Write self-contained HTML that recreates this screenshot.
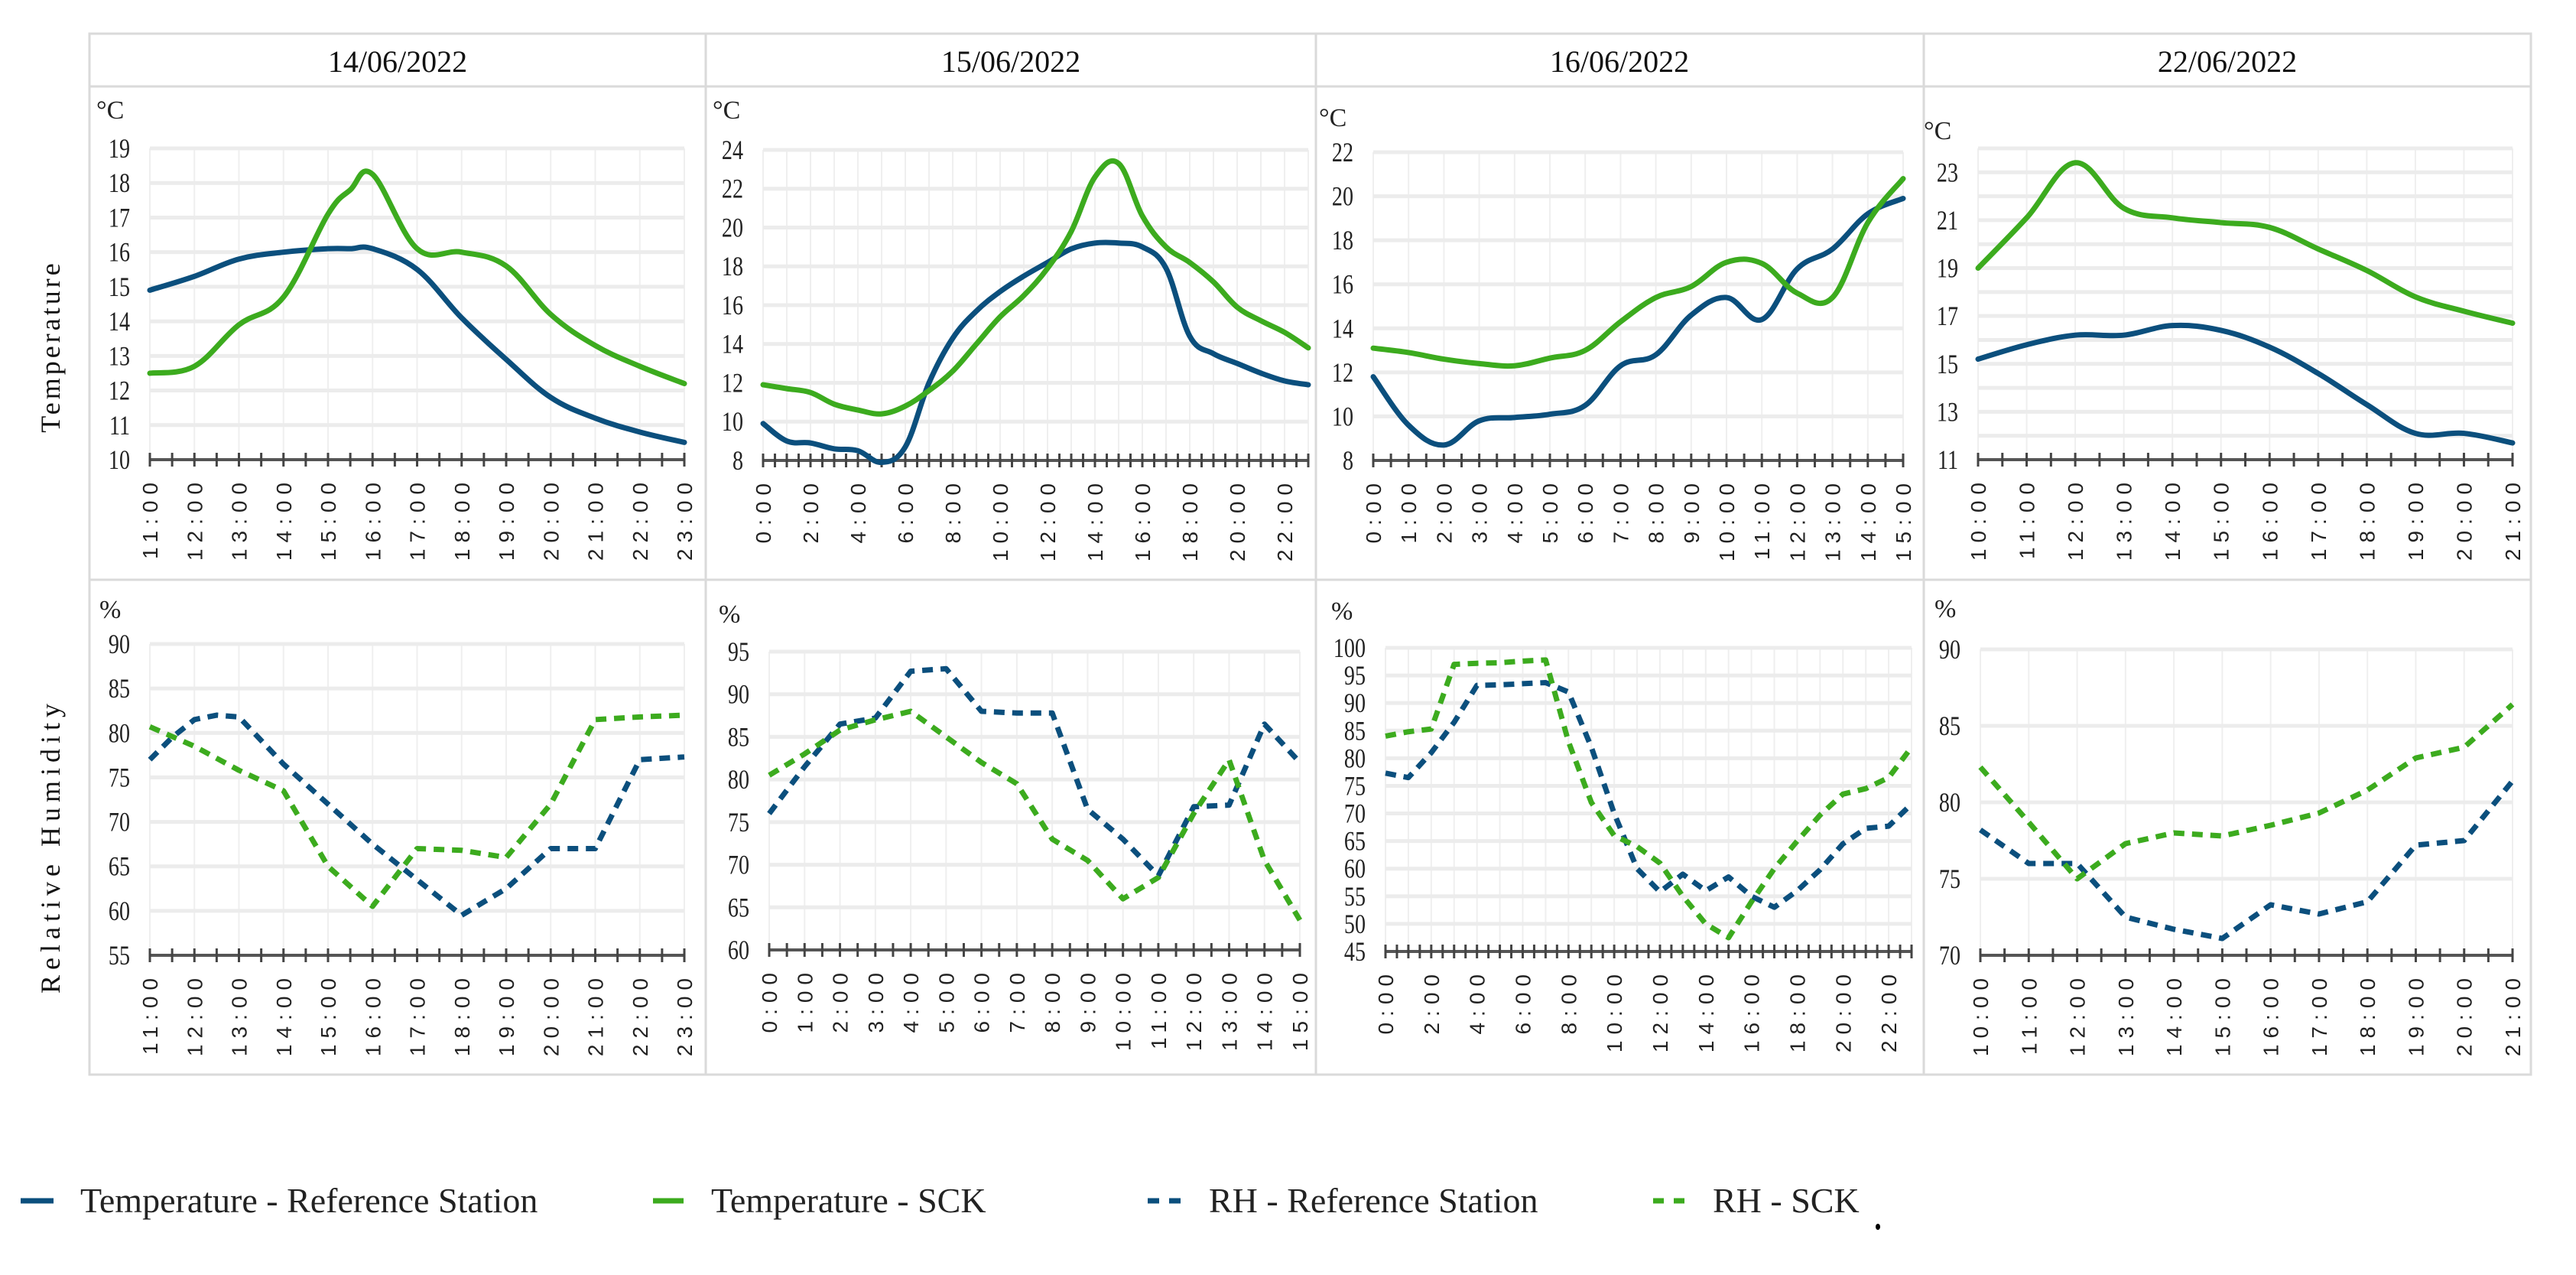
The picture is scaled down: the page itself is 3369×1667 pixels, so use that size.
<!DOCTYPE html>
<html><head><meta charset="utf-8">
<style>
html,body{margin:0;padding:0;background:#fff;}
svg{display:block;}
</style></head>
<body>
<svg id="chart" width="3369" height="1667" viewBox="0 0 3369 1667" xmlns="http://www.w3.org/2000/svg">
<g stroke="#dadada" stroke-width="3" fill="none">
<rect x="117" y="44" width="3193" height="1361"/>
<line x1="117" y1="113" x2="3310" y2="113"/>
<line x1="117" y1="758" x2="3310" y2="758"/>
<line x1="923" y1="44" x2="923" y2="1405"/>
<line x1="1721" y1="44" x2="1721" y2="1405"/>
<line x1="2516" y1="44" x2="2516" y2="1405"/>
</g>
<g font-family="Liberation Serif, serif" font-size="40" fill="#111" text-anchor="middle">
<text x="520" y="94">14/06/2022</text>
<text x="1322" y="94">15/06/2022</text>
<text x="2118" y="94">16/06/2022</text>
<text x="2913" y="94">22/06/2022</text>
</g>
<text font-family="Liberation Serif, serif" font-size="36" letter-spacing="4" fill="#111" text-anchor="middle" transform="translate(78,453) rotate(-90)">Temperature</text>
<text font-family="Liberation Serif, serif" font-size="36" letter-spacing="7" fill="#111" text-anchor="middle" transform="translate(78,1106) rotate(-90)">Relative Humidity</text>
<g id="panels"></g>
<g font-family="Liberation Serif, serif" font-size="46" fill="#222">
<g><line x1="27" y1="1570" x2="70" y2="1570" stroke="#0b4f7d" stroke-width="7"/><text x="105" y="1585">Temperature - Reference Station</text></g>
<g><line x1="854" y1="1570" x2="894" y2="1570" stroke="#3cab1e" stroke-width="7"/><text x="930" y="1585">Temperature - SCK</text></g>
<g><line x1="1501" y1="1570" x2="1546" y2="1570" stroke="#0b4f7d" stroke-width="7" stroke-dasharray="15 13"/><text x="1581" y="1585">RH - Reference Station</text></g>
<g><line x1="2162" y1="1570" x2="2204" y2="1570" stroke="#3cab1e" stroke-width="7" stroke-dasharray="14 13"/><text x="2240" y="1585">RH - SCK</text></g>
<ellipse cx="2456" cy="1604" rx="3" ry="4" fill="#000"/>
</g>
</svg>
<script>
// ---- data ----
const p1Hours = [11,12,13,14,15,15.5,16,17,18,19,20,21,22,23];
const p1TempRef = [14.9,15.3,15.8,16.0,16.1,16.1,16.1,15.5,14.1,12.9,11.8,11.2,10.8,10.5];
const p1TempSck = [12.5,12.7,13.9,14.7,17.1,17.8,18.25,16.1,16.0,15.6,14.2,13.3,12.7,12.2];
const p2Hours = [0,1,2,3,4,5,6,7,8,9,10,11,12,13,14,15,16,17,18,19,20,21,22,23];
const p2TempRef = [9.9,9.0,8.9,8.6,8.5,7.9,8.7,12.0,14.3,15.7,16.7,17.5,18.2,18.9,19.2,19.2,19.0,17.9,14.4,13.5,13.0,12.5,12.1,11.9];
const p2TempSck = [11.9,11.7,11.5,10.9,10.6,10.4,10.8,11.6,12.6,14.0,15.4,16.5,17.9,19.8,22.6,23.3,20.6,19.0,18.2,17.2,15.9,15.2,14.6,13.8];
const p3Hours = [0,1,2,3,4,5,6,7,8,9,10,11,12,13,14,15];
const p3TempRef = [11.8,9.6,8.7,9.8,9.95,10.1,10.5,12.3,12.8,14.6,15.4,14.4,16.7,17.6,19.2,19.9];
const p3TempSck = [13.1,12.9,12.6,12.4,12.3,12.65,13.0,14.3,15.4,15.9,17.0,16.95,15.6,15.4,18.8,20.8];
const p4Hours = [10,11,12,13,14,15,16,17,18,19,20,21];
const p4TempRef = [15.2,15.8,16.2,16.2,16.6,16.4,15.7,14.6,13.3,12.1,12.1,11.7];
const p4TempSck = [19.0,21.1,23.4,21.5,21.1,20.9,20.7,19.8,18.9,17.8,17.2,16.7];

const r1Hours = [11,11.5,12,12.5,13,14,15,16,17,18,19,20,21,21.5,22,23];
const r1RhRef = [77,79.5,81.5,82,81.8,76.5,72,67.5,63.5,59.5,62.5,67,67,72,77,77.3];
const r1HoursSck = [11,12,13,14,15,16,17,18,19,20,21,22,23];
const r1RhSck = [80.7,78.5,75.8,73.5,65,60.5,67,66.8,66,72,81.5,81.8,82];
const r2Hours = [0,1,2,3,4,5,6,7,8,9,10,11,12,13,14,15];
const r2RhRef = [76,81.5,86.5,87.2,92.7,93,88,87.8,87.8,76.5,73,68.7,76.8,77,86.5,82];
const r2RhSck = [80.5,83,85.8,87,88,85,82,79.5,73,70.5,66,68.5,76,82.3,70.5,63.5];
const r3Hours = [0,1,2,3,4,5,6,7,8,9,10,11,12,13,14,15,16,17,18,19,20,21,22,23];
const r3RhRef = [77.3,76.5,81,86.5,93.2,93.3,93.5,93.7,92,82,70,60,55.8,59,56,58.5,55,53,56,59.8,64.5,67.3,67.7,71.7];
const r3RhSck = [84,84.8,85.3,97,97.2,97.3,97.6,97.8,83,72,66,64,61,55,50,47.5,54,60,65,69.7,73.5,74.5,76.5,82];
const r4Hours = [10,11,12,13,14,15,16,17,18,19,20,21];
const r4RhRef = [78.2,76,76,72.5,71.7,71.1,73.3,72.7,73.5,77.2,77.5,81.4];
const r4RhSck = [82.3,78.7,75,77.3,78,77.8,78.5,79.3,80.8,82.9,83.6,86.4];

const BLUE = '#0b4f7d', GREEN = '#3cab1e';
const NS = 'http://www.w3.org/2000/svg';
const root = document.getElementById('panels');

function mk(tag, attrs, parent){
  const e = document.createElementNS(NS, tag);
  for (const k in attrs) e.setAttribute(k, attrs[k]);
  parent.appendChild(e);
  return e;
}
function smoothPath(pts){
  let d = 'M' + pts[0][0] + ',' + pts[0][1];
  for (let i = 0; i < pts.length - 1; i++){
    const p0 = pts[Math.max(0,i-1)], p1 = pts[i], p2 = pts[i+1], p3 = pts[Math.min(pts.length-1,i+2)];
    const t = 0.18;
    const c1x = p1[0] + (p2[0]-p0[0])*t, c1y = p1[1] + (p2[1]-p0[1])*t;
    const c2x = p2[0] - (p3[0]-p1[0])*t, c2y = p2[1] - (p3[1]-p1[1])*t;
    d += ' C' + c1x + ',' + c1y + ' ' + c2x + ',' + c2y + ' ' + p2[0] + ',' + p2[1];
  }
  return d;
}
function linePath(pts){ return 'M' + pts.map(p => p[0] + ',' + p[1]).join(' L'); }

function panel(cfg){
  const g = mk('g', {}, root);
  
  
  const xs = v => cfg.left + (v - cfg.xMin) / (cfg.xMax - cfg.xMin) * (cfg.right - cfg.left);
  const ys = v => cfg.bottom - (v - cfg.yMin) / (cfg.yMax - cfg.yMin) * (cfg.bottom - cfg.top);
  for (let v = cfg.xMin; v <= cfg.xMax + 1e-6; v += cfg.vGrid){
    mk('line', {x1: xs(v), x2: xs(v), y1: cfg.top, y2: cfg.bottom, stroke: '#efefef', 'stroke-width': 2}, g);
  }
  for (let v = cfg.yMin + cfg.hGrid; v <= cfg.yMax + 1e-6; v += cfg.hGrid){
    mk('line', {x1: cfg.left, x2: cfg.right, y1: ys(v), y2: ys(v), stroke: '#ececec', 'stroke-width': 5}, g);
  }
  for (let v = cfg.yLabelStart; v <= cfg.yMax + 1e-6; v += cfg.yLabelStep){
    const t = mk('text', {x: cfg.left - 26, y: ys(v) + 12, 'text-anchor': 'end', 'font-family': 'Liberation Serif, serif', 'font-size': 36, fill: '#222', transform: 'translate(' + (cfg.left-26) + ',0) scale(0.78,1) translate(' + (-(cfg.left-26)) + ',0)'}, g);
    
    
    t.textContent = v;
  }
  const unit = mk('text', {x: cfg.unitX, y: cfg.unitY, 'font-family': 'Liberation Serif, serif', 'font-size': 34, fill: '#222'}, g);
  
  
  unit.textContent = cfg.unit;
  mk('line', {x1: cfg.left, x2: cfg.right, y1: cfg.bottom, y2: cfg.bottom, stroke: '#555', 'stroke-width': 4}, g);
  for (let v = cfg.xMin; v <= cfg.xMax + 1e-6; v += cfg.tickStep){
    mk('line', {x1: xs(v), x2: xs(v), y1: cfg.bottom - 9, y2: cfg.bottom + 9, stroke: '#444', 'stroke-width': 3}, g);
  }
  for (let v = cfg.xMin; v <= cfg.xMax + 1e-6; v += cfg.xLabelStep){
    const x = xs(v) + 10, y = cfg.bottom + 22;
    const t = mk('text', {x: x, y: y, 'text-anchor': 'end', 'font-family': 'Liberation Sans, sans-serif', 'font-size': 28, 'letter-spacing': 8, fill: '#222', transform: 'rotate(-90 ' + x + ' ' + y + ')'}, g);
    
    
    t.textContent = v + ':00';
  }
  cfg.series.forEach(s => {
    const pts = s.x.map((h, i) => [xs(h), ys(s.y[i])]);
    const p = mk('path', {d: s.dash ? linePath(pts) : smoothPath(pts), fill: 'none', stroke: s.color, 'stroke-width': 7, 'stroke-linejoin': 'round', 'stroke-linecap': s.dash ? 'butt' : 'round'}, g);
    if (s.dash) p.setAttribute('stroke-dasharray', '14 10');
    
    
  });
}

panel({name:'temp-panel-14-06', left:196, right:895, top:194, bottom:601, xMin:11, xMax:23, yMin:10, yMax:19, hGrid:1, vGrid:1, yLabelStart:10, yLabelStep:1, tickStep:0.5, xLabelStep:1, unit:'°C', unitX:126, unitY:155,
  series:[{name:'temp-ref-line', x:p1Hours, y:p1TempRef, color:BLUE},{name:'temp-sck-line', x:p1Hours, y:p1TempSck, color:GREEN}]});
panel({name:'temp-panel-15-06', left:998, right:1711, top:196, bottom:602, xMin:0, xMax:23, yMin:8, yMax:24, hGrid:2, vGrid:1, yLabelStart:8, yLabelStep:2, tickStep:0.5, xLabelStep:2, unit:'°C', unitX:932, unitY:155,
  series:[{name:'temp-ref-line', x:p2Hours, y:p2TempRef, color:BLUE},{name:'temp-sck-line', x:p2Hours, y:p2TempSck, color:GREEN}]});
panel({name:'temp-panel-16-06', left:1796, right:2489, top:199, bottom:602, xMin:0, xMax:15, yMin:8, yMax:22, hGrid:2, vGrid:1, yLabelStart:8, yLabelStep:2, tickStep:0.5, xLabelStep:1, unit:'°C', unitX:1725, unitY:165,
  series:[{name:'temp-ref-line', x:p3Hours, y:p3TempRef, color:BLUE},{name:'temp-sck-line', x:p3Hours, y:p3TempSck, color:GREEN}]});
panel({name:'temp-panel-22-06', left:2587, right:3286, top:194, bottom:601, xMin:10, xMax:21, yMin:11, yMax:24, hGrid:1, vGrid:1, yLabelStart:11, yLabelStep:2, tickStep:0.5, xLabelStep:1, unit:'°C', unitX:2516, unitY:182,
  series:[{name:'temp-ref-line', x:p4Hours, y:p4TempRef, color:BLUE},{name:'temp-sck-line', x:p4Hours, y:p4TempSck, color:GREEN}]});

panel({name:'rh-panel-14-06', left:196, right:895, top:842, bottom:1249, xMin:11, xMax:23, yMin:55, yMax:90, hGrid:5, vGrid:1, yLabelStart:55, yLabelStep:5, tickStep:0.5, xLabelStep:1, unit:'%', unitX:130, unitY:808,
  series:[{name:'rh-ref-line', x:r1Hours, y:r1RhRef, color:BLUE, dash:true},{name:'rh-sck-line', x:r1HoursSck, y:r1RhSck, color:GREEN, dash:true}]});
panel({name:'rh-panel-15-06', left:1006, right:1700, top:852, bottom:1242, xMin:0, xMax:15, yMin:60, yMax:95, hGrid:5, vGrid:1, yLabelStart:60, yLabelStep:5, tickStep:0.5, xLabelStep:1, unit:'%', unitX:940, unitY:814,
  series:[{name:'rh-ref-line', x:r2Hours, y:r2RhRef, color:BLUE, dash:true},{name:'rh-sck-line', x:r2Hours, y:r2RhSck, color:GREEN, dash:true}]});
panel({name:'rh-panel-16-06', left:1812, right:2500, top:847, bottom:1244, xMin:0, xMax:23, yMin:45, yMax:100, hGrid:5, vGrid:1, yLabelStart:45, yLabelStep:5, tickStep:0.5, xLabelStep:2, unit:'%', unitX:1741, unitY:810,
  series:[{name:'rh-ref-line', x:r3Hours, y:r3RhRef, color:BLUE, dash:true},{name:'rh-sck-line', x:r3Hours, y:r3RhSck, color:GREEN, dash:true}]});
panel({name:'rh-panel-22-06', left:2590, right:3286, top:849, bottom:1249, xMin:10, xMax:21, yMin:70, yMax:90, hGrid:5, vGrid:1, yLabelStart:70, yLabelStep:5, tickStep:0.5, xLabelStep:1, unit:'%', unitX:2530, unitY:807,
  series:[{name:'rh-ref-line', x:r4Hours, y:r4RhRef, color:BLUE, dash:true},{name:'rh-sck-line', x:r4Hours, y:r4RhSck, color:GREEN, dash:true}]});
</script>
</body></html>
